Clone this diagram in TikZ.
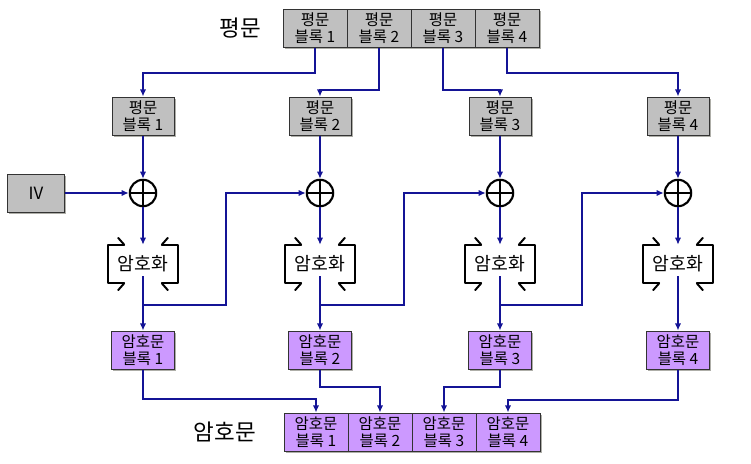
\documentclass[tikz,border=0pt]{standalone}
\usepackage{fontspec}
\usepackage{tikz}
\usetikzlibrary{arrows.meta, shadows}
\setmainfont{Noto Sans CJK KR}
\newfontfamily\krfont{Noto Sans CJK KR}
\definecolor{mynavy}{RGB}{20,20,150}
\definecolor{boxgray}{RGB}{192,192,192}
\definecolor{boxpurple}{RGB}{204,153,255}
\definecolor{shadowgray}{RGB}{120,120,110}
\tikzset{
  plainbox/.style={rectangle, draw=black!80, fill=boxgray, line width=0.7pt,
    minimum width=1.6cm, minimum height=0.95cm, inner sep=1pt, align=center,
    font=\krfont\fontsize{11}{12.5}\selectfont,
    drop shadow={shadow xshift=1.4pt, shadow yshift=-1.4pt, fill=shadowgray, opacity=0.6}},
  cipherbox/.style={plainbox, fill=boxpurple},
  xorsym/.style={circle, draw=black, line width=1.5pt, minimum size=0.66cm, inner sep=0pt,
    path picture={\draw[line width=1.5pt]
      (path picture bounding box.north) -- (path picture bounding box.south)
      (path picture bounding box.west) -- (path picture bounding box.east);}},
  encbox/.style={rectangle, minimum width=1.725cm, minimum height=0.95cm, inner sep=0pt,
    font=\krfont\fontsize{13}{15}\selectfont},
  brk/.style={draw=black, line width=1.4pt, line cap=round, line join=round},
  conn/.style={draw=mynavy, line width=1.4pt},
  arrow/.style={conn, -{Latex[length=5pt,width=4.5pt]}},
  biglabel/.style={font=\krfont\fontsize{16}{18}\selectfont}
}
% brackets round one encryption node
\newcommand{\encbrackets}[1]{%
  \draw[brk] ([xshift=0.4cm]#1.north west) -- (#1.north west) -- (#1.south west) -- ([xshift=0.4cm]#1.south west);
  \draw[brk] ([xshift=0.4cm]#1.north west) -- ([xshift=0.25cm,yshift=0.17cm]#1.north west);
  \draw[brk] ([xshift=0.4cm]#1.south west) -- ([xshift=0.25cm,yshift=-0.17cm]#1.south west);
  \draw[brk] ([xshift=-0.4cm]#1.north east) -- (#1.north east) -- (#1.south east) -- ([xshift=-0.4cm]#1.south east);
  \draw[brk] ([xshift=-0.4cm]#1.north east) -- ([xshift=-0.25cm,yshift=0.17cm]#1.north east);
  \draw[brk] ([xshift=-0.4cm]#1.south east) -- ([xshift=-0.25cm,yshift=-0.17cm]#1.south east);
}

\begin{document}
\begin{tikzpicture}[x=0.025cm, y=-0.025cm]
  \useasboundingbox (0,0) rectangle (751,463);

  % Plaintext (Top)
  \node[biglabel] (plainlabel) at (240,28) {평문};
  \node[plainbox] (ptop1) at (315,28) {평문\\블록 1};
  \node[plainbox] (ptop2) at (379,28) {평문\\블록 2};
  \node[plainbox] (ptop3) at (443,28) {평문\\블록 3};
  \node[plainbox] (ptop4) at (507,28) {평문\\블록 4};

  % Plaintext blocks
  \node[plainbox, minimum width=1.55cm] (plain1) at (143,116) {평문\\블록 1};
  \node[plainbox, minimum width=1.55cm] (plain2) at (320,116) {평문\\블록 2};
  \node[plainbox, minimum width=1.55cm] (plain3) at (500,116) {평문\\블록 3};
  \node[plainbox, minimum width=1.55cm] (plain4) at (678,116) {평문\\블록 4};

  % IV and XOR
  \node[plainbox, minimum width=1.425cm, font=\krfont\fontsize{12}{14}\selectfont] (iv) at (36,193) {IV};
  \node[xorsym] (xor1) at (143,193) {};
  \node[xorsym] (xor2) at (320,193) {};
  \node[xorsym] (xor3) at (500,193) {};
  \node[xorsym] (xor4) at (678,193) {};

  % Encryption
  \node[encbox] (enc1) at (143,264) {암호화};
  \node[encbox] (enc2) at (320,264) {암호화};
  \node[encbox] (enc3) at (500,264) {암호화};
  \node[encbox] (enc4) at (678,264) {암호화};
  \encbrackets{enc1}
  \encbrackets{enc2}
  \encbrackets{enc3}
  \encbrackets{enc4}

  % Ciphertext blocks
  \node[cipherbox, minimum width=1.575cm] (ciph1) at (143,350) {암호문\\블록 1};
  \node[cipherbox, minimum width=1.575cm] (ciph2) at (320,350) {암호문\\블록 2};
  \node[cipherbox, minimum width=1.575cm] (ciph3) at (500,350) {암호문\\블록 3};
  \node[cipherbox, minimum width=1.575cm] (ciph4) at (678,350) {암호문\\블록 4};

  % Ciphertext (Bottom)
  \node[biglabel] (cipherlabel) at (225,432) {암호문};
  \node[cipherbox] (cbot1) at (316,432) {암호문\\블록 1};
  \node[cipherbox] (cbot2) at (380,432) {암호문\\블록 2};
  \node[cipherbox] (cbot3) at (444,432) {암호문\\블록 3};
  \node[cipherbox] (cbot4) at (508,432) {암호문\\블록 4};

  % Connections - top row to blocks
  \draw[arrow] (ptop1.south) -- (ptop1.south |- 0,73) -| (plain1.north);
  \draw[arrow] (ptop2.south) -- (ptop2.south |- 0,90) -| (plain2.north);
  \draw[arrow] (ptop3.south) -- (ptop3.south |- 0,90) -| (plain3.north);
  \draw[arrow] (ptop4.south) -- (ptop4.south |- 0,73) -| (plain4.north);

  \foreach \i in {1,2,3,4} {
    \draw[arrow] (plain\i.south) -- (xor\i.north);
    \draw[arrow] (xor\i.south) -- (enc\i.north);
    \draw[arrow] ([yshift=5pt]enc\i.south) -- (ciph\i.north);
  }
  \draw[arrow] (iv.east) -- (xor1.west);

  % Chaining
  \coordinate (fb1) at (226,305);
  \coordinate (fb2) at (404,305);
  \coordinate (fb3) at (582,305);
  \draw[arrow] (enc1.south |- fb1) -- (fb1) |- (xor2.west);
  \draw[arrow] (enc2.south |- fb2) -- (fb2) |- (xor3.west);
  \draw[arrow] (enc3.south |- fb3) -- (fb3) |- (xor4.west);

  % Connections - blocks to bottom row
  \draw[arrow] (ciph1.south) -- (ciph1.south |- 0,399) -| (cbot1.north);
  \draw[arrow] (ciph2.south) -- (ciph2.south |- 0,387) -| (cbot2.north);
  \draw[arrow] (ciph3.south) -- (ciph3.south |- 0,387) -| (cbot3.north);
  \draw[arrow] (ciph4.south) -- (ciph4.south |- 0,400) -| (cbot4.north);
\end{tikzpicture}
\end{document}
